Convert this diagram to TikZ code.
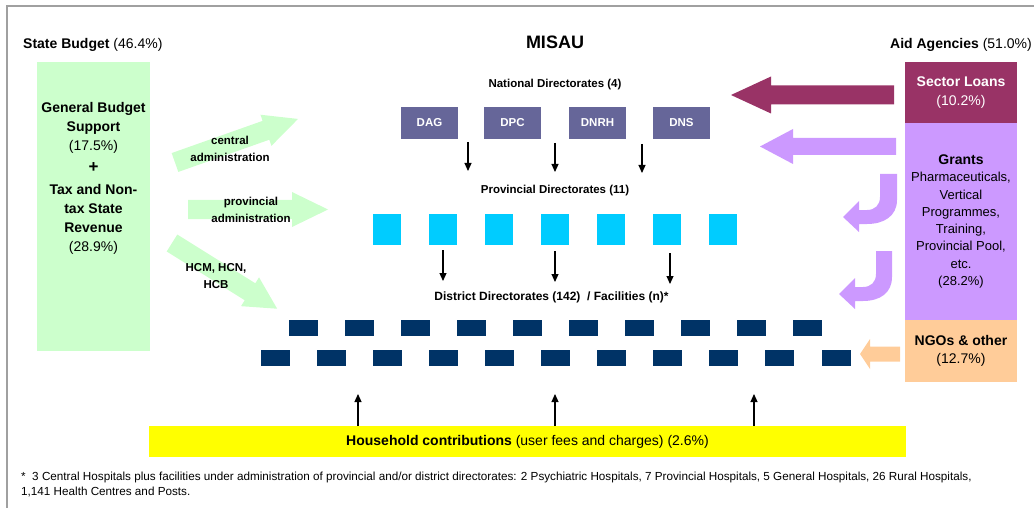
\documentclass[tikz,border=0pt]{standalone}
\usepackage{fontspec}
\setmainfont{Liberation Sans}
\usetikzlibrary{arrows.meta}
\definecolor{sbgreen}{HTML}{CCFFCC}
\definecolor{loancol}{HTML}{993366}
\definecolor{grantcol}{HTML}{CC99FF}
\definecolor{ngocol}{HTML}{FFCC99}
\definecolor{natcol}{HTML}{666699}
\definecolor{provcol}{HTML}{00CCFF}
\definecolor{distcol}{HTML}{003366}
\definecolor{hhcol}{HTML}{FFFF00}
\definecolor{framecol}{HTML}{A0A0A0}
\begin{document}
\begin{tikzpicture}[x=1pt,y=-1pt,
  box/.style={inner sep=0pt, outer sep=0pt, draw=none},
  natbox/.style={box, fill=natcol, minimum width=57pt, minimum height=32pt, text=white, font=\bfseries\fontsize{11.5}{13}\selectfont},
  provbox/.style={box, fill=provcol, minimum width=28.5pt, minimum height=31pt},
  distbox/.style={box, fill=distcol, minimum width=29pt, minimum height=16pt},
  srcbox/.style={box, minimum width=112pt},
  lbl/.style={font=\bfseries\fontsize{11.5}{16.7}\selectfont, align=center, inner sep=0pt},
  head/.style={font=\fontsize{14}{16}\selectfont, inner sep=0pt},
  flow/.style={-{Triangle[length=8pt,width=7pt]}, line width=1.1pt},
  pics/blockarrow/.style args={#1/#2/#3/#4/#5}{code={
    \fill[#5] (0,-#2) -- (#1-#4,-#2) -- (#1-#4,-#3) -- (#1,0) -- (#1-#4,#3) -- (#1-#4,#2) -- (0,#2) -- cycle;}}
]
\useasboundingbox (0,0) rectangle (1034,508);
% frame
\draw[framecol, line width=1.2pt] (7,508) -- (7,6) -- (1034,6);

% headers
\node[head, anchor=west] (sbhead) at (23,45) {\bfseries State Budget \mdseries(46.4\%)};
\node[head, anchor=east] (aahead) at (1032,45) {\bfseries Aid Agencies \mdseries(51.0\%)};
\node[font=\bfseries\fontsize{18}{20}\selectfont, inner sep=0pt] (misau) at (555,42) {MISAU};

% state budget box
\node[box, fill=sbgreen, minimum width=113pt, minimum height=289pt] (sb) at (93.5,206.5) {};
\node[font=\bfseries\fontsize{14}{19}\selectfont, align=center, inner sep=0pt] (sbtext) at (93.5,178.5)
  {General Budget\\Support\\\mdseries(17.5\%)\\[3pt]{\fontsize{17}{19}\selectfont +}\\[3pt]Tax and Non-\\tax State\\Revenue\\\mdseries(28.9\%)};

% aid agencies boxes
\node[srcbox, fill=loancol, minimum height=61pt, text=white, align=center, font=\fontsize{14}{19}\selectfont] (loans) at (961,92.5)
  {\bfseries Sector Loans\\(10.2\%)};
\node[srcbox, fill=grantcol, minimum height=197pt, align=center, font=\fontsize{13}{17.3}\selectfont] (grants) at (961,221.5)
  {{\bfseries\fontsize{14}{17.3}\selectfont Grants}\\Pharmaceuticals,\\Vertical\\Programmes,\\Training,\\Provincial Pool,\\etc.\\(28.2\%)};
\node[srcbox, fill=ngocol, minimum height=62pt, align=center, font=\fontsize{14}{18}\selectfont] (ngo) at (961,351)
  {\bfseries NGOs \& other\\(12.7\%)};

% green block arrows
\pic at (175,162.5) [rotate=19.5] {blockarrow={130.5/10/16.5/34/sbgreen}};
\pic at (188,209.5) {blockarrow={140/9.5/17.5/36/sbgreen}};
\pic at (172,243) [rotate=-32] {blockarrow={124/10/17/32/sbgreen}};
\node[lbl] (lcentral) at (230,149) {central\\administration};
\node[lbl] (lprov) at (251,210) {provincial\\administration};
\node[lbl] (lhcm) at (216,276) {HCM, HCN,\\HCB};

% aid arrows
\pic at (894,95) [rotate=180] {blockarrow={163/9.5/18.5/40/loancol}};
\pic at (896,146.5) [rotate=180] {blockarrow={136/8.5/17.5/33/grantcol}};
\pic at (900,354) [rotate=180] {blockarrow={40/7.5/15/10/ngocol}};
% curved grant arrows
\fill[grantcol] (880,174) -- (897,174) -- (897,200) .. controls (897,216) and (884,224) .. (867,224)
  -- (859,224) -- (859,232) -- (843,217) -- (859,201) -- (859,210) -- (867,210)
  .. controls (875,210) and (880,205) .. (880,197) -- cycle;
\begin{scope}[shift={(-4,77)}]
\fill[grantcol] (880,174) -- (896,174) -- (896,200) .. controls (896,216) and (884,224) .. (867,224)
  -- (859,224) -- (859,232) -- (843,217) -- (859,201) -- (859,210) -- (867,210)
  .. controls (875,210) and (880,205) .. (880,197) -- cycle;
\end{scope}

% national directorates
\node[lbl] (natlbl) at (555,85) {National Directorates (4)};
\node[natbox] (dag) at (429.5,123) {DAG};
\node[natbox] (dpc) at (512.5,123) {DPC};
\node[natbox] (dnrh) at (597.5,123) {DNRH};
\node[natbox] (dns) at (681.5,123) {DNS};

\coordinate (a1s) at (468,142); \coordinate (a1e) at (468,171);
\coordinate (a2s) at (555,143); \coordinate (a2e) at (555,172);
\coordinate (a3s) at (642,144); \coordinate (a3e) at (642,173);
\draw[flow] (a1s) -- (a1e);
\draw[flow] (a2s) -- (a2e);
\draw[flow] (a3s) -- (a3e);

% provincial
\node[lbl] (provlbl) at (555,191) {Provincial Directorates (11)};
\foreach \i in {0,...,6} {
  \node[provbox] (p\i) at (387+56*\i,229.5) {};
}
\coordinate (b1s) at (443,250); \coordinate (b1e) at (443,281);
\coordinate (b2s) at (555,251); \coordinate (b2e) at (555,282);
\coordinate (b3s) at (670,253); \coordinate (b3e) at (670,284);
\draw[flow] (b1s) -- (b1e);
\draw[flow] (b2s) -- (b2e);
\draw[flow] (b3s) -- (b3e);

% district
\node[lbl, font=\bfseries\fontsize{12}{16.7}\selectfont] (distlbl) at (551.5,297) {District Directorates (142) \ / Facilities (n)*};
\foreach \i in {0,...,9} {
  \node[distbox] (da\i) at (303.5+56.05*\i,328) {};
}
\foreach \i in {0,...,10} {
  \node[distbox] (db\i) at (275.5+56.05*\i,358) {};
}

% household
\node[box, fill=hhcol, minimum width=757pt, minimum height=31pt, font=\fontsize{14}{16}\selectfont] (hh) at (527.5,441.5)
  {\bfseries Household contributions \mdseries(user fees and charges) (2.6\%)};
\coordinate (c1) at (358,394); \coordinate (c2) at (555,394); \coordinate (c3) at (754,394);
\draw[flow] (hh.north -| c1) -- (c1);
\draw[flow] (hh.north -| c2) -- (c2);
\draw[flow] (hh.north -| c3) -- (c3);

% footnote
\node[anchor=north west, align=left, inner sep=0pt, font=\fontsize{11.7}{14.5}\selectfont] (fn) at (21,472)
  {*\ \ 3 Central Hospitals plus facilities under administration of provincial and/or district directorates: 2 Psychiatric Hospitals, 7 Provincial Hospitals, 5 General Hospitals, 26 Rural Hospitals,\\1,141 Health Centres and Posts.};
\end{tikzpicture}
\end{document}
